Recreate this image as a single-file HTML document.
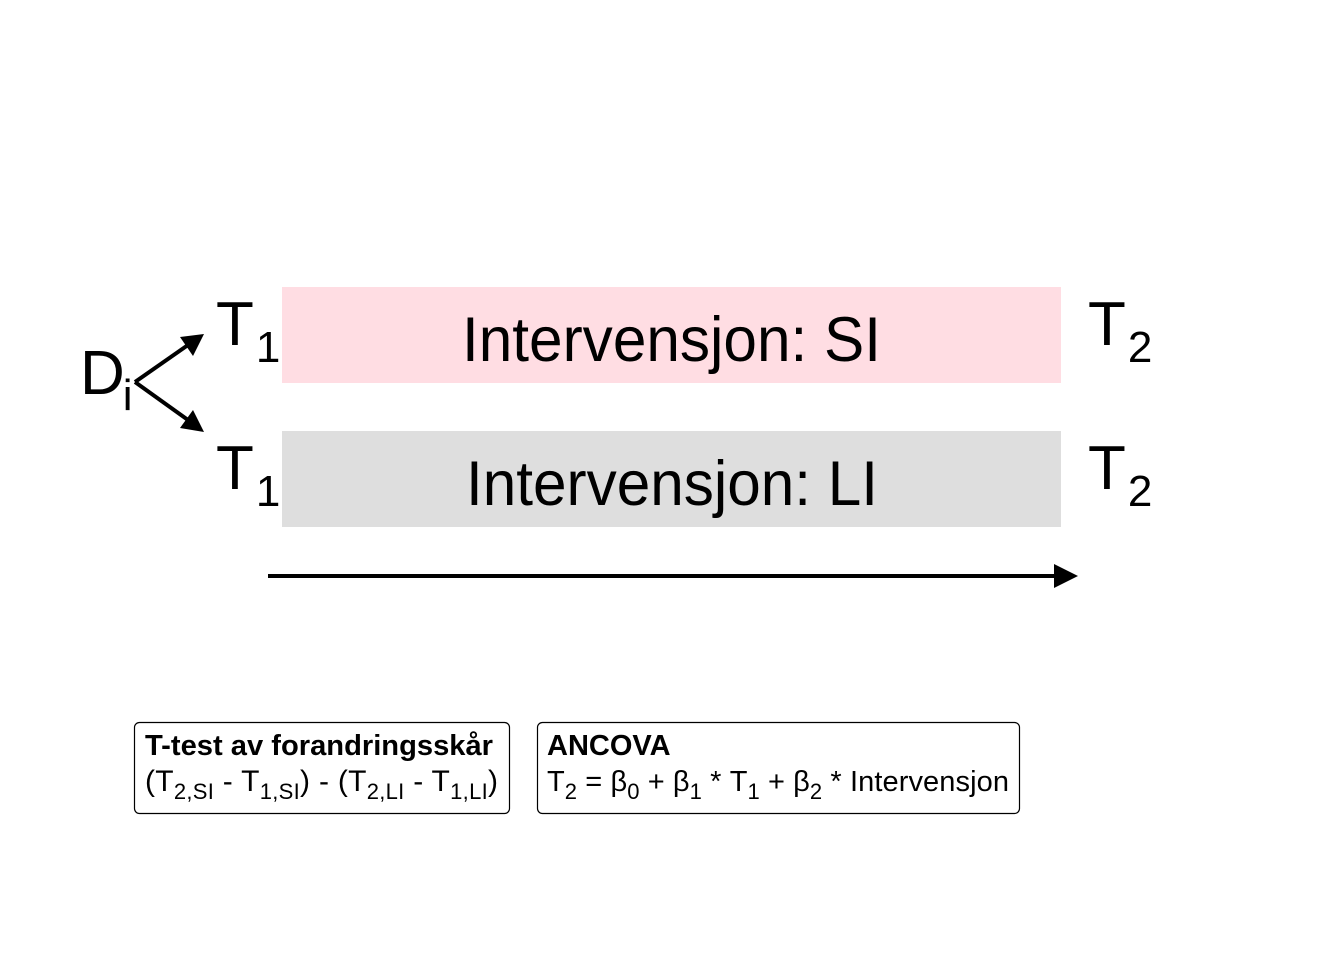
<!DOCTYPE html>
<html><head><meta charset="utf-8"><style>
html,body{margin:0;padding:0;background:#fff;}
svg{display:block;font-family:"Liberation Sans",Arial,sans-serif;}
</style></head><body>
<svg width="1344" height="960" viewBox="0 0 1344 960" xmlns="http://www.w3.org/2000/svg">
<rect x="0" y="0" width="1344" height="960" fill="#fff"/>
<rect x="282" y="287" width="779" height="96" fill="#ffdde3"/>
<rect x="282" y="431" width="779" height="96" fill="#dedede"/>
<text x="462" y="361" font-size="63" textLength="419" lengthAdjust="spacingAndGlyphs" fill="#000">Intervensjon: SI</text>
<text x="466" y="505" font-size="63" textLength="412" lengthAdjust="spacingAndGlyphs" fill="#000">Intervensjon: LI</text>
<text x="216" y="345" font-size="62" fill="#000">T<tspan font-size="44" dy="17" dx="2">1</tspan></text>
<text x="216" y="489" font-size="62" fill="#000">T<tspan font-size="44" dy="17" dx="2">1</tspan></text>
<text x="1088" y="345" font-size="62" fill="#000">T<tspan font-size="44" dy="17" dx="2">2</tspan></text>
<text x="1088" y="489" font-size="62" fill="#000">T<tspan font-size="44" dy="17" dx="2">2</tspan></text>
<text x="80" y="394" font-size="62" fill="#000">D<tspan font-size="44" dy="16" dx="-2">i</tspan></text>
<line x1="135" y1="382" x2="188" y2="345" stroke="#000" stroke-width="4"/>
<polygon points="204,334 180,337 193,356" fill="#000"/>
<line x1="135" y1="382" x2="188" y2="420" stroke="#000" stroke-width="4"/>
<polygon points="204,432 193,410 180,428" fill="#000"/>
<line x1="268" y1="576" x2="1058" y2="576" stroke="#000" stroke-width="4"/>
<polygon points="1078,576 1054,564 1054,588" fill="#000"/>
<rect x="134.5" y="722.5" width="375" height="91" rx="5" fill="#fff" stroke="#000" stroke-width="1.2"/>
<rect x="537.5" y="722.5" width="482" height="91" rx="5" fill="#fff" stroke="#000" stroke-width="1.2"/>
<text x="145" y="755" font-size="29" font-weight="bold" textLength="348" lengthAdjust="spacingAndGlyphs" fill="#000">T-test av forandringsskår</text>
<text x="145" y="791" font-size="30" textLength="353" lengthAdjust="spacing" fill="#000">(T<tspan font-size="22" dy="8">2,SI</tspan><tspan dy="-8"> - T</tspan><tspan font-size="22" dy="8">1,SI</tspan><tspan dy="-8">) - (T</tspan><tspan font-size="22" dy="8">2,LI</tspan><tspan dy="-8"> - T</tspan><tspan font-size="22" dy="8">1,LI</tspan><tspan dy="-8">)</tspan></text>
<text x="547" y="755" font-size="29" font-weight="bold" fill="#000">ANCOVA</text>
<text x="547" y="791" font-size="29" textLength="462" lengthAdjust="spacing" fill="#000">T<tspan font-size="22" dy="8">2</tspan><tspan dy="-8"> = β</tspan><tspan font-size="22" dy="8">0</tspan><tspan dy="-8"> + β</tspan><tspan font-size="22" dy="8">1</tspan><tspan dy="-8"> * T</tspan><tspan font-size="22" dy="8">1</tspan><tspan dy="-8"> + β</tspan><tspan font-size="22" dy="8">2</tspan><tspan dy="-8"> * Intervensjon</tspan></text>
</svg>
</body></html>
